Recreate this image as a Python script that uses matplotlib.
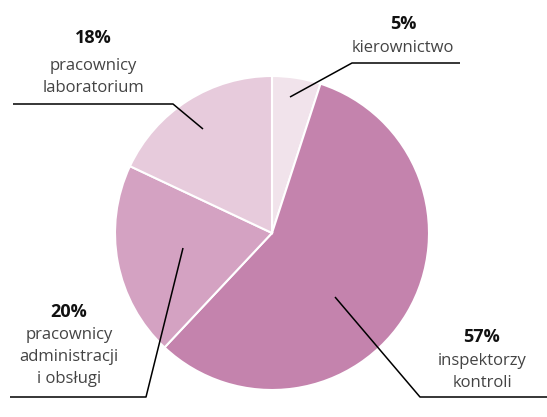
import matplotlib.pyplot as plt

plt.rcParams['font.family'] = ['Open Sans', 'DejaVu Sans']

# dane
udzialy = [5, 57, 20, 18]
procenty = ['5%', '57%', '20%', '18%']
opisy = ['kierownictwo', 'inspektorzy\nkontroli', 'pracownicy\nadministracji\ni obsługi',
         'pracownicy\nlaboratorium']
kolory = ['#f1e3eb', '#c483ad', '#d4a2c2', '#e7cbdc']

W, H = 547, 417


def py(y):
    # wspolrzedne pikselowe od gory -> od dolu
    return H - y


fig = plt.figure(figsize=(W / 100, H / 100), dpi=100)
ax = fig.add_axes([0, 0, 1, 1])

ax.pie(udzialy, colors=kolory, startangle=90, counterclock=False,
       center=(272, py(233)), radius=157,
       wedgeprops=dict(edgecolor='white', linewidth=1.5), frame=True)

# linie odniesienia (x, y w pikselach)
linie = [
    [(290, 97), (352, 63), (460, 63)],
    [(335, 297), (420, 397), (547, 397)],
    [(183, 248), (146, 397), (10, 397)],
    [(203, 129), (173, 104), (13, 104)],
]
# pozycje etykiet: x srodka, y procentu, y pierwszej linii opisu
etykiety = [(403, 24, 48), (482, 337, 361), (69, 312, 335), (93, 38, 66)]

for pts, (tx, ty, oy), pr, op in zip(linie, etykiety, procenty, opisy):
    ax.plot([p[0] for p in pts], [py(p[1]) for p in pts], color='black', lw=1.1,
            solid_capstyle='butt')
    ax.text(tx, py(ty), pr, ha='center', va='center', fontsize=13,
            fontweight='bold', color='#111111')
    for i, line in enumerate(op.split('\n')):
        ax.text(tx, py(oy + i * 22), line, ha='center', va='center',
                fontsize=12, color='#444444')

ax.set_xlim(0, W)
ax.set_ylim(0, H)
ax.set_aspect('equal')
ax.axis('off')

fig.savefig('out.png', dpi=100)
